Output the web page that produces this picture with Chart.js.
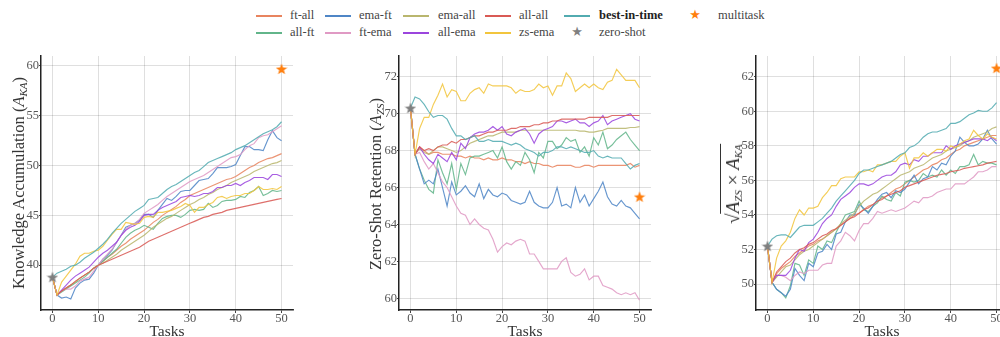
<!DOCTYPE html>
<html><head><meta charset="utf-8">
<script src="https://cdn.jsdelivr.net/npm/chart.js@4.4.0/dist/chart.umd.min.js"></script>
<style>
html,body{margin:0;padding:0;background:#fff;}
body{width:1000px;height:337px;overflow:hidden;position:relative;font-family:"Liberation Serif","DejaVu Serif",serif;}
canvas{position:absolute;}
.lt{position:absolute;font-size:12.5px;color:#444;white-space:nowrap;line-height:14px;}
.sw{position:absolute;height:0;width:26px;border-top-width:2px;border-top-style:solid;}
.st{position:absolute;font-family:"DejaVu Sans",sans-serif;font-size:13px;line-height:14px;transform:translate(-50%,0);}
.yt{position:absolute;transform:translate(-50%,-50%) rotate(-90deg);white-space:nowrap;font-size:16.5px;color:#333;}
.yt sub{font-size:11px;font-style:italic;vertical-align:-3px;}
</style></head>
<body>
<div id="legend"></div>
<canvas id="c1" width="300" height="296" style="left:0px;top:46px"></canvas>
<canvas id="c2" width="300" height="296" style="left:358px;top:46px"></canvas>
<canvas id="c3" width="300" height="296" style="left:715px;top:46px"></canvas>
<div class="yt" style="left:19px;top:183px">Knowledge Accumulation (<i>A</i><sub>KA</sub>)</div>
<div class="yt" style="left:376px;top:184px">Zero-Shot Retention (<i>A</i><sub>ZS</sub>)</div>
<div class="yt" style="left:733px;top:184px;font-size:19px">√<span style="border-top:1px solid #333;padding-top:1px"><i>A</i><sub>ZS</sub> × <i>A</i><sub>KA</sub></span></div>
<script>
// ---- categories ----
const tasks = [0,1,2,3,4,5,6,7,8,9,10,11,12,13,14,15,16,17,18,19,20,21,22,23,24,25,26,27,28,29,30,31,32,33,34,35,36,37,38,39,40,41,42,43,44,45,46,47,48,49,50];
const methods = ['ft-all','all-ft','ema-ft','ft-ema','ema-all','all-ema','all-all','zs-ema','best-in-time'];
const xTicks = [0,10,20,30,40,50];

// ---- Knowledge Accumulation ----
const ka_ftAll = [38.8, 37.0,37.4,37.7,38.0,38.3,38.7,39.0,39.3,39.7,40.0, 40.4,40.8,41.1,41.5,41.9,42.2,42.6,42.9,43.2,43.5, 43.9,44.3,44.6,45.0,45.3,45.6,45.9,46.3,46.6,47.0, 47.2,47.4,47.6,47.8,48.0,48.2,48.4,48.6,48.7,48.9, 49.2,49.5,49.8,50.0,50.3,50.5,50.7,50.8,51.0,51.2];
const ka_allFt = [38.8, 37.0,37.3,37.6,37.9,38.2,38.5,38.8,39.2,39.7,40.0, 40.4,40.8,41.2,41.6,42.2,42.8,43.2,43.5,43.7,44.0, 43.8,43.6,44.2,44.7,44.9,45.0,45.0,44.8,45.1,45.5, 45.6,45.5,45.6,46.2,45.8,46.0,46.4,46.5,46.5,46.6, 46.9,46.8,47.3,47.5,47.9,47.0,47.2,47.5,47.4,47.5];
const ka_emaFt = [38.8, 37.0,36.7,36.8,36.6,37.7,38.2,38.5,38.6,39.2,40.0, 40.6,41.0,41.5,42.3,43.0,43.8,44.0,44.2,44.5,45.1, 45.1,44.8,45.5,46.1,46.7,46.5,46.9,47.4,47.5,47.5, 48.0,48.5,48.6,48.7,49.2,49.8,49.8,49.8,49.9,50.1, 51.0,51.9,51.9,51.6,51.6,51.5,52.6,53.5,52.8,52.5];
const ka_ftEma = [38.8, 37.0,37.4,37.6,37.6,37.9,38.4,38.6,38.8,39.4,40.0, 40.6,41.1,41.6,42.3,43.0,43.6,44.0,44.2,44.6,45.2, 45.5,45.8,46.1,46.5,46.9,47.2,47.5,47.8,48.1,48.4, 48.6,48.8,49.0,49.3,49.6,49.9,50.2,50.5,50.8,50.9, 51.1,51.6,52.0,52.2,52.8,53.0,53.1,53.4,53.7,54.0];
const ka_emaAll = [38.8, 37.0,37.4,37.7,38.0,38.3,38.7,39.0,39.3,39.7,40.0, 40.2,40.5,40.8,41.1,41.5,41.8,42.1,42.4,42.7,43.0, 43.4,43.8,44.1,44.4,44.7,44.9,45.2,45.5,45.8,46.1, 46.3,46.6,46.8,47.1,47.3,47.6,47.8,48.0,48.3,48.5, 48.7,48.9,49.1,49.4,49.6,49.8,50.0,50.2,50.3,50.5];
const ka_allEma = [38.8, 37.0,37.5,38.0,38.5,38.9,39.2,39.5,39.8,40.3,40.8, 41.2,41.5,41.9,42.3,43.0,43.5,43.8,44.0,44.4,45.0, 45.1,45.1,45.5,45.8,46.0,46.2,46.4,46.8,46.9,47.0, 46.9,47.0,47.2,47.2,47.4,47.8,47.8,48.0,48.0,48.2, 48.0,48.3,48.5,48.8,48.8,48.8,48.6,49.1,49.1,48.9];
const ka_allAll = [38.8, 37.0,37.4,37.7,38.0,38.4,38.7,39.0,39.3,39.7,40.0, 40.2,40.4,40.6,40.8,41.0,41.2,41.4,41.6,41.8,42.1, 42.4,42.6,42.8,43.0,43.2,43.4,43.6,43.8,44.0,44.2, 44.4,44.6,44.8,44.9,45.1,45.2,45.3,45.5,45.6,45.7, 45.8,45.9,46.0,46.1,46.2,46.3,46.4,46.5,46.6,46.7];
const ka_zsEma = [38.8, 37.0,38.3,38.9,39.5,40.1,40.9,41.2,41.2,41.4,41.5, 41.9,42.5,43.1,43.6,43.6,44.3,44.2,44.1,44.2,44.8, 44.9,44.8,45.3,45.3,45.4,45.5,45.7,45.9,46.2,46.0, 45.3,45.8,45.8,46.1,46.3,46.8,46.9,46.7,46.9,47.0, 47.0,47.2,47.2,47.5,47.9,47.6,47.6,47.7,47.6,47.9];
const ka_best = [38.8, 39.2,39.4,39.6,39.9,40.0,40.3,40.7,41.0,41.3,41.7, 42.1,42.6,43.2,43.7,44.2,44.6,45.0,45.4,45.7,46.0, 46.6,46.7,46.8,47.2,47.6,47.9,48.1,48.4,48.7,49.0, 49.3,49.5,49.9,50.3,50.5,50.7,50.9,51.1,51.3,51.6, 51.8,52.0,52.3,52.6,52.9,53.2,53.4,53.6,53.9,54.4];
const ka_zeroShot = 38.8, ka_multitask = 59.7;
const ka_yTicks = [40,45,50,55,60];

// ---- Zero-Shot Retention ----
const zs_ftAll = [70.3, 67.8,68.2,68.0,67.8,67.9,67.9,67.8,67.8,67.8,67.7, 67.7,67.6,67.7,67.6,67.6,67.5,67.6,67.5,67.5,67.6, 67.5,67.5,67.4,67.4,67.3,67.4,67.3,67.3,67.2,67.2, 67.1,67.2,67.2,67.2,67.2,67.1,67.1,67.2,67.2,67.1, 67.2,67.2,67.2,67.2,67.2,67.2,67.2,67.3,67.1,67.2];
const zs_allFt = [70.3, 67.8,67.0,66.4,65.9,65.7,67.5,66.8,66.2,67.3,65.9, 67.3,66.7,67.6,67.7,67.7,67.8,67.9,68.0,67.6,68.2, 67.4,67.0,67.4,67.2,67.9,67.5,66.8,67.9,67.6,68.5, 68.5,68.1,68.3,68.7,68.5,68.6,67.9,68.2,67.7,68.7, 68.3,69.0,68.1,68.3,68.6,68.8,69.0,68.6,68.3,68.0];
const zs_emaFt = [70.3, 67.8,67.0,66.2,66.4,66.2,67.0,66.0,65.0,66.3,65.6, 65.8,66.1,65.7,65.5,66.2,65.4,65.9,65.6,65.5,65.7, 65.6,65.3,65.2,65.1,65.2,65.8,65.2,65.0,64.9,64.9, 65.2,66.0,65.0,65.1,64.9,66.0,65.2,65.6,65.0,65.4, 65.8,66.3,65.5,65.1,65.0,65.3,65.0,64.9,64.6,64.3];
const zs_ftEma = [70.3, 67.8,67.9,67.4,67.0,67.3,66.8,66.3,66.0,65.5,65.0, 64.6,64.5,64.0,64.3,64.0,63.8,63.7,63.2,62.5,62.8, 63.0,62.9,63.1,63.2,63.1,62.4,62.4,62.0,61.6,61.6, 61.6,61.6,62.0,62.2,61.4,61.2,61.3,61.6,61.0,61.2, 61.2,60.7,60.6,60.5,60.3,60.2,60.3,60.2,60.3,59.9];
const zs_emaAll = [70.3, 67.8,68.1,67.9,67.8,68.0,68.2,68.2,68.1,68.0,67.9, 68.0,68.2,68.4,68.5,68.6,68.7,68.8,68.8,68.9,69.0, 69.0,69.0,69.0,69.1,69.1,69.1,69.1,69.1,69.1,69.1, 69.1,69.1,69.1,69.1,69.1,69.1,69.05,69.05,69.0,69.0, 69.05,69.1,69.2,69.2,69.2,69.2,69.2,69.25,69.25,69.3];
const zs_allEma = [70.3, 67.8,68.2,67.8,67.5,67.3,67.8,67.6,67.4,67.9,67.5, 68.4,68.1,68.7,68.9,69.0,69.0,69.1,69.3,69.1,69.3, 68.9,68.8,69.0,69.1,69.2,68.9,68.4,68.9,69.1,69.2, 69.3,69.6,69.6,69.5,69.6,69.7,69.5,69.5,69.3,69.5, 69.6,69.9,69.4,69.6,69.7,69.8,69.9,70.0,69.7,69.6];
const zs_allAll = [70.3, 67.8,68.2,68.0,68.1,68.0,68.2,68.3,68.3,68.5,68.4, 68.6,68.6,68.7,68.8,68.8,68.9,69.0,69.0,69.1,69.1, 69.1,69.2,69.2,69.3,69.3,69.3,69.4,69.4,69.5,69.5, 69.6,69.6,69.7,69.7,69.7,69.7,69.7,69.7,69.8,69.8, 69.8,69.8,69.8,69.9,69.9,69.9,69.9,69.9,69.9,69.9];
const zs_zsEma = [70.3, 67.8,69.2,69.8,69.8,70.5,71.0,71.6,70.9,71.3,71.2, 70.7,70.7,71.1,71.3,71.4,71.1,71.6,71.5,71.5,71.5, 71.5,71.4,71.1,71.3,71.2,71.2,71.3,71.6,71.4,71.5, 71.0,71.5,71.5,72.2,71.9,71.2,71.4,71.6,71.4,71.6, 71.4,71.3,71.7,71.8,72.4,72.1,71.8,71.8,71.8,71.4];
const zs_best = [70.3, 70.9,70.8,70.5,70.1,69.8,69.9,69.9,69.7,69.2,68.8, 68.8,68.6,68.7,68.8,68.5,68.5,68.6,68.5,68.5,68.5, 68.4,68.3,68.4,68.3,68.1,68.0,67.9,67.7,67.9,67.9, 68.0,68.2,68.2,68.1,68.2,68.1,68.0,67.9,67.9,68.0, 67.7,67.6,67.7,67.6,67.6,67.6,67.3,67.0,67.2,67.3];
const zs_zeroShot = 70.3, zs_multitask = 65.5;
const zs_yTicks = [60,62,64,66,68,70,72];

// ---- Geometric mean ----
const gm_ftAll = [52.2, 50.1,50.6,50.9,51.1,51.3,51.6,51.8,52.0,52.2,52.3, 52.5,52.6,52.8,53.0,53.2,53.4,53.6,53.8,54.0,54.1, 54.3,54.5,54.6,54.8,55.0,55.1,55.3,55.5,55.6,55.8, 56.0,56.2,56.4,56.6,56.7,56.9,57.0,57.2,57.3,57.5, 57.7,57.8,58.0,58.1,58.2,58.3,58.4,58.5,58.6,58.6];
const gm_allFt = [52.2, 50.1,49.7,49.5,49.2,49.9,51.2,51.1,50.5,51.4,51.2, 52.2,52.0,52.5,52.4,53.0,53.5,54.0,54.1,54.2,54.8, 54.3,54.2,54.5,54.7,55.1,54.9,54.8,55.3,55.1,55.9, 56.0,55.9,56.0,56.4,56.2,56.3,56.2,56.6,56.3,56.6, 56.4,56.8,56.8,56.9,57.5,56.9,57.1,57.0,57.0,56.9];
const gm_emaFt = [52.2, 50.1,49.7,49.5,49.3,49.7,50.9,50.5,50.2,51.2,51.0, 51.8,51.9,52.3,52.0,52.9,53.0,53.6,54.0,54.0,54.6, 54.4,54.1,54.5,54.9,55.2,55.3,55.0,55.4,55.3,55.5, 55.9,56.3,55.8,56.1,56.2,56.8,56.6,57.0,56.9,57.4, 57.7,58.5,58.2,58.0,58.0,58.1,58.4,58.9,58.4,58.1];
const gm_ftEma = [52.2, 50.1,50.5,50.5,50.4,50.2,50.5,50.7,50.6,50.8,50.8, 50.8,51.1,51.2,51.2,52.2,52.5,53.0,52.8,52.5,53.1, 53.5,53.5,53.8,54.2,54.1,54.2,54.3,54.2,54.3,54.4, 54.6,54.8,54.7,55.0,55.0,55.1,55.3,55.4,55.5,55.5, 55.8,55.8,55.8,56.0,56.2,56.5,56.5,56.6,56.8,56.8];
const gm_emaAll = [52.2, 50.1,50.4,50.7,51.0,51.1,51.4,51.7,51.9,52.0,52.2, 52.4,52.6,52.8,53.0,53.2,53.5,53.7,53.9,54.1,54.5, 54.8,55.0,55.2,55.3,55.5,55.7,55.9,56.1,56.3,56.4, 56.5,56.7,56.8,56.9,57.1,57.3,57.4,57.5,57.7,57.8, 57.9,58.0,58.2,58.3,58.5,58.6,58.7,58.8,59.0,59.1];
const gm_allEma = [52.2, 50.1,50.5,50.5,50.5,50.8,51.5,52.0,51.9,52.4,52.6, 53.0,53.5,53.8,54.0,54.5,54.9,55.1,55.3,55.6,55.8, 55.8,55.7,55.8,56.0,56.2,56.3,56.3,56.5,56.9,57.0, 56.9,57.2,57.1,57.4,57.4,57.6,57.6,57.6,58.0,57.8, 58.0,58.1,58.2,58.3,58.4,58.4,58.4,58.3,58.5,58.3];
const gm_allAll = [52.2, 50.1,50.7,51.0,51.3,51.5,51.8,52.0,52.1,52.3,52.4, 52.6,52.8,52.9,53.1,53.2,53.4,53.6,53.8,53.9,54.1, 54.3,54.4,54.6,54.8,54.9,55.1,55.2,55.3,55.4,55.6, 55.7,55.8,55.9,56.0,56.1,56.2,56.3,56.35,56.4,56.5, 56.55,56.6,56.7,56.75,56.8,56.85,56.9,57.0,57.05,57.1];
const gm_zsEma = [52.2, 50.1,51.5,52.2,52.5,53.0,53.8,54.3,54.0,54.4,54.4, 54.5,55.0,55.3,55.7,55.7,56.1,56.2,56.2,56.2,56.5, 56.5,56.6,56.5,56.9,56.9,57.0,57.1,57.1,57.4,57.6, 56.7,57.3,57.3,57.6,57.4,57.6,57.8,57.8,57.7,58.0, 57.9,58.1,58.3,58.4,58.9,58.6,58.4,58.7,58.5,58.4];
const gm_best = [52.2, 52.6,52.8,52.85,52.85,52.7,53.0,53.3,53.4,53.4,53.4, 53.6,53.8,54.1,54.4,54.8,55.1,55.4,55.7,56.0,56.4, 56.6,56.6,56.7,56.8,56.9,57.0,57.1,57.3,57.5,57.6, 57.9,58.0,58.2,58.5,58.7,58.8,58.8,58.9,59.0,59.3, 59.3,59.4,59.6,59.8,59.9,60.05,60.0,60.0,60.2,60.5];
const gm_zeroShot = 52.2, gm_multitask = 62.5;
const gm_yTicks = [50,52,54,56,58,60,62];

// ---- styles ----
const colors = ['#e8845f','#62b58a','#4f86c6','#e09ac4','#b9b66e','#9b45dd','#d95a55','#f2c53d','#52abb0'];
const FONT = '"Liberation Serif", "DejaVu Serif", serif';

function makeStar(color, size) {
  const c = document.createElement('canvas');
  c.width = size; c.height = size;
  const g = c.getContext('2d');
  const R = size / 2, r = R * 0.42, cx = size / 2, cy = size / 2 + size * 0.04;
  g.beginPath();
  for (let i = 0; i < 10; i++) {
    const a = -Math.PI / 2 + i * Math.PI / 5;
    const rr = i % 2 === 0 ? R : r;
    g.lineTo(cx + rr * Math.cos(a), cy + rr * Math.sin(a));
  }
  g.closePath();
  g.fillStyle = color; g.fill();
  return c;
}
const starGray = makeStar('#7f7f7f', 12);
const starOrange = makeStar('#ff7f0e', 12);

function makeChart(id, seriesList, yMin, yMax, yTicks, zeroShot, multitask) {
  const datasets = seriesList.map((arr, i) => ({
    label: methods[i],
    data: tasks.map((t, j) => ({x: t, y: arr[j]})),
    borderColor: colors[i] + 'dd',
    borderWidth: 1.15,
    pointRadius: 0,
    tension: 0,
    fill: false,
    order: 20 - i
  }));
  datasets.push({label: 'zero-shot', data: [{x: 0, y: zeroShot}], showLine: false, pointStyle: starGray, pointRadius: 6, order: 1});
  datasets.push({label: 'multitask', data: [{x: 50, y: multitask}], showLine: false, pointStyle: starOrange, pointRadius: 6, order: 0});
  const grid = {color: 'rgba(0,0,0,0.16)', lineWidth: 0.8, borderDash: [4, 3], tickBorderDash: [], tickColor: '#444', tickLength: 3, tickWidth: 1};
  new Chart(document.getElementById(id), {
    type: 'line',
    data: {datasets},
    options: {
      responsive: false, animation: false, devicePixelRatio: 1,
      layout: {padding: {top: 10, right: 5, left: 0, bottom: 0}},
      plugins: {legend: {display: false}, tooltip: {enabled: false}},
      scales: {
        x: {
          type: 'linear', min: -2.5, max: 52.5,
          afterBuildTicks: s => { s.ticks = xTicks.map(v => ({value: v})); },
          afterFit: s => { s.height = 32; },
          grid: grid,
          border: {display: true, color: '#222', width: 1.5},
          ticks: {font: {family: FONT, size: 12.5}, color: '#555', padding: -2, maxRotation: 0},
          title: {display: true, text: 'Tasks', font: {family: FONT, size: 15.5}, color: '#333', padding: {top: 0, bottom: 1}}
        },
        y: {
          type: 'linear', min: yMin, max: yMax,
          afterBuildTicks: s => { s.ticks = yTicks.map(v => ({value: v})); },
          afterFit: s => { s.width = 41; },
          grid: Object.assign({}, grid, {tickLength: 2}),
          border: {display: true, color: '#222', width: 1.5},
          ticks: {font: {family: FONT, size: 12.5}, color: '#555', padding: 0}
        }
      }
    }
  });
}

makeChart('c1', [ka_ftAll, ka_allFt, ka_emaFt, ka_ftEma, ka_emaAll, ka_allEma, ka_allAll, ka_zsEma, ka_best], 35.5, 61.0, ka_yTicks, ka_zeroShot, ka_multitask);
makeChart('c2', [zs_ftAll, zs_allFt, zs_emaFt, zs_ftEma, zs_emaAll, zs_allEma, zs_allAll, zs_zsEma, zs_best], 59.37, 73.12, zs_yTicks, zs_zeroShot, zs_multitask);
makeChart('c3', [gm_ftAll, gm_allFt, gm_emaFt, gm_ftEma, gm_emaAll, gm_allEma, gm_allAll, gm_zsEma, gm_best], 48.5, 63.2, gm_yTicks, gm_zeroShot, gm_multitask);

// ---- legend (HTML) ----
const legendItems = [
  {i: 0, sx: 256, tx: 290, row: 0}, {i: 2, sx: 325, tx: 359, row: 0}, {i: 4, sx: 403, tx: 438, row: 0},
  {i: 6, sx: 485, tx: 519, row: 0}, {i: 8, sx: 564, tx: 599, row: 0, bold: true},
  {i: 1, sx: 256, tx: 290, row: 1}, {i: 3, sx: 325, tx: 359, row: 1}, {i: 5, sx: 403, tx: 438, row: 1},
  {i: 7, sx: 485, tx: 519, row: 1}
];
const rowY = [16, 33];
const leg = document.getElementById('legend');
legendItems.forEach(it => {
  const sw = document.createElement('div');
  sw.className = 'sw';
  sw.style.left = it.sx + 'px'; sw.style.top = (rowY[it.row] - 1) + 'px';
  sw.style.borderTopColor = colors[it.i];
  leg.appendChild(sw);
  const t = document.createElement('div');
  t.className = 'lt';
  t.style.left = it.tx + 'px'; t.style.top = (rowY[it.row] - 8) + 'px';
  if (it.bold) { t.style.fontWeight = 'bold'; t.style.color = '#222'; }
  t.textContent = methods[it.i];
  leg.appendChild(t);
});
[['multitask', '#ff7f0e', 695, 718, 0], ['zero-shot', '#7f7f7f', 577, 599, 1]].forEach(([name, col, sx, tx, row]) => {
  const s = document.createElement('div');
  s.className = 'st'; s.style.color = col;
  s.style.left = sx + 'px'; s.style.top = (rowY[row] - 8) + 'px';
  s.textContent = '★';
  leg.appendChild(s);
  const t = document.createElement('div');
  t.className = 'lt';
  t.style.left = tx + 'px'; t.style.top = (rowY[row] - 8) + 'px';
  t.textContent = name;
  leg.appendChild(t);
});
</script>
</body></html>
